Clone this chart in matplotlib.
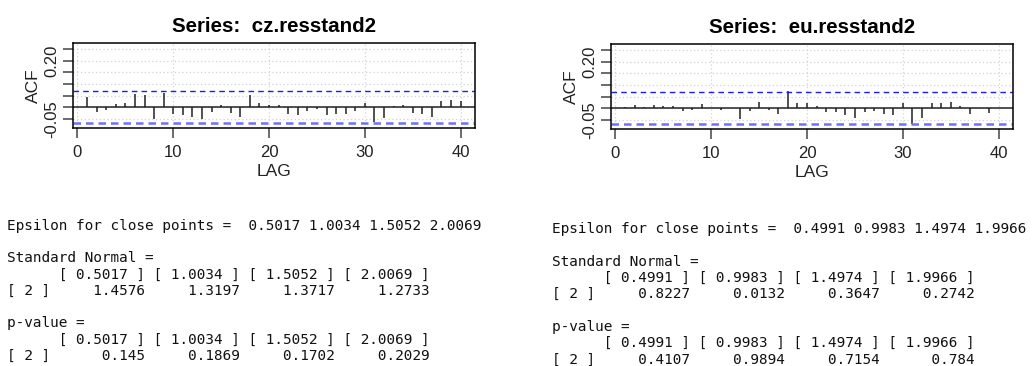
import numpy as np
import matplotlib
matplotlib.use('Agg')
import matplotlib.pyplot as plt

# sample ACF values, lags 1..40
lags = np.arange(1, 41)
cz_acf = [0.044, -0.019, -0.011, 0.014, 0.020, 0.058, 0.053, -0.049, 0.063, -0.029,
          -0.031, -0.041, -0.050, -0.018, 0.010, -0.023, -0.041, 0.052, 0.020, 0.010,
          0.010, -0.028, -0.031, -0.017, -0.008, -0.031, -0.027, -0.027, -0.015, 0.020,
          -0.064, -0.045, 0.006, 0.011, -0.023, -0.028, -0.041, 0.026, 0.031, 0.026]
eu_acf = [0.006, 0.016, 0.004, 0.016, 0.012, 0.012, -0.012, -0.007, 0.017, 0.001,
          -0.006, 0.001, -0.048, -0.012, 0.026, -0.006, -0.026, 0.075, 0.021, 0.022,
          0.010, -0.017, -0.017, -0.030, -0.041, -0.017, -0.012, -0.026, -0.030, 0.022,
          -0.067, -0.043, 0.022, 0.022, 0.028, 0.010, -0.026, 0.002, -0.018, 0.001]
conf_band = 0.069

titles = ['Series:  cz.resstand2', 'Series:  eu.resstand2']

# BDS test printout
cz_eps = [0.5017, 1.0034, 1.5052, 2.0069]
cz_stat = [1.4576, 1.3197, 1.3717, 1.2733]
cz_pval = [0.145, 0.1869, 0.1702, 0.2029]
eu_eps = [0.4991, 0.9983, 1.4974, 1.9966]
eu_stat = [0.8227, 0.0132, 0.3647, 0.2742]
eu_pval = [0.4107, 0.9894, 0.7154, 0.784]

W, H = 1033, 366
fig = plt.figure(figsize=(W / 100, H / 100), dpi=100)
sans = 'Liberation Sans'
mono = 'DejaVu Sans Mono'


def draw_acf(box, acf, title):
    x0, y0, x1, y1 = box
    ax = fig.add_axes([x0 / W, 1 - y1 / H, (x1 - x0) / W, (y1 - y0) / H])
    ax.set_xlim(-0.5, 41.5)
    ax.set_ylim(-0.089, 0.277)
    yt = [-0.05, 0, 0.05, 0.10, 0.15, 0.20, 0.25]
    for y in yt:
        ax.axhline(y, color='#d3d3d3', lw=0.9, ls=(0, (1, 2)), zorder=0)
    for x in [0, 10, 20, 30, 40]:
        ax.axvline(x, color='#d3d3d3', lw=0.9, ls=(0, (1, 2)), zorder=0)
    ax.vlines(lags, 0, acf, color='#222222', lw=1.1)
    ax.axhline(0, color='#222222', lw=1.1)
    ax.axhline(conf_band, color='#1a1aff', lw=1.0, ls=(0, (4, 3)))
    ax.axhline(-conf_band, color='#7070ff', lw=1.8, ls=(0, (3, 2)))
    ax.set_xticks([0, 10, 20, 30, 40])
    ax.set_yticks(yt)
    ax.set_yticklabels(['-0.05', '', '', '', '', '0.20', ''])
    ax.tick_params(axis='both', direction='out', length=7.2, width=1.1,
                   color='#444444', labelsize=12, labelcolor='#222222')
    ax.tick_params(axis='x', pad=5)
    ax.tick_params(axis='y', pad=2.5, labelrotation=90)
    for lab in ax.get_yticklabels():
        lab.set_va('center')
        lab.set_family(sans)
    for lab in ax.get_xticklabels():
        lab.set_family(sans)
    for s in ax.spines.values():
        s.set_color('black')
        s.set_linewidth(1.1)
    ax.set_xlabel('LAG', fontsize=12.5, family=sans, labelpad=3, color='#222222')
    ax.set_ylabel('ACF', fontsize=12.5, family=sans, labelpad=2, color='#222222')
    ax.set_title(title, fontsize=14.8, family=sans, fontweight='bold', pad=8)
    return ax


draw_acf((72.7, 43, 475, 128), cz_acf, titles[0])
draw_acf((610.7, 44, 1013, 129), eu_acf, titles[1])


def bds_lines(eps, stat, pval):
    head = ' ' * 5 + ''.join(('[ %s ]' % e).rjust(11) for e in eps)
    lines = ['Epsilon for close points =  ' + ' '.join(str(e) for e in eps),
             '',
             'Standard Normal =',
             head,
             '[ 2 ]' + ''.join(str(v).rjust(11) for v in stat),
             '',
             'p-value =',
             head,
             '[ 2 ]' + ''.join(str(v).rjust(11) for v in pval)]
    return lines


def draw_text(x, y_first, lines):
    step = 16.3
    for i, line in enumerate(lines):
        if line:
            fig.text(x / W, 1 - (y_first + i * step) / H, line, family=mono,
                     fontsize=10.4, va='center', ha='left', color='#111111')


draw_text(7, 225.7, bds_lines(cz_eps, cz_stat, cz_pval))
draw_text(552, 229, bds_lines(eu_eps, eu_stat, eu_pval))

fig.savefig('out.png', dpi=100)
